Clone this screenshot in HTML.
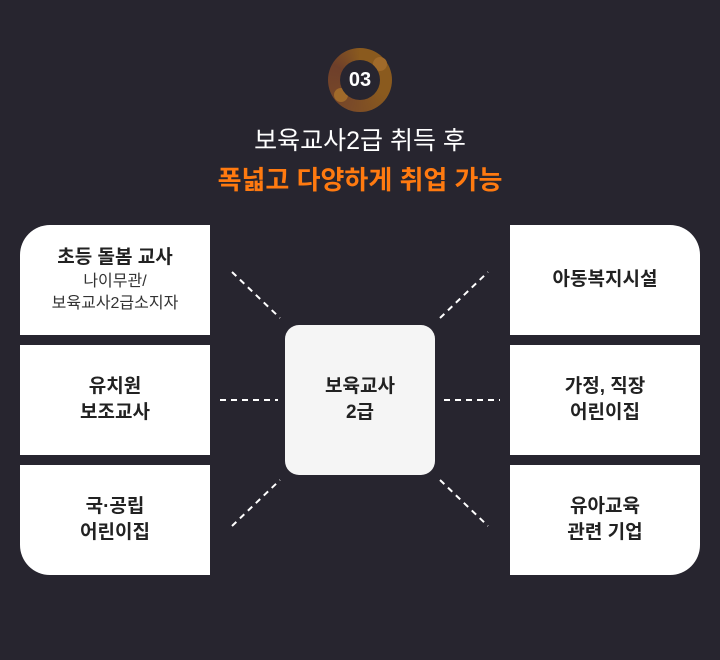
<!DOCTYPE html>
<html><head><meta charset="utf-8"><style>
body{margin:0;width:720px;height:660px;background:#27252f;font-family:"Liberation Sans","Noto Sans CJK KR",sans-serif;position:relative;overflow:hidden}
.b{position:absolute;background:#fff;display:flex;flex-direction:column;align-items:center;justify-content:center;text-align:center;color:#222;font-weight:bold;font-size:19px;line-height:26px}
.s{font-weight:normal;font-size:16px;line-height:22px;color:#333}
.t{position:absolute;left:0;width:720px;text-align:center}
</style></head><body>
<div style="position:absolute;left:328px;top:48px;width:64px;height:64px;border-radius:50%;background:conic-gradient(#8a5a1e 0deg,#8a5a1e 120deg,#7a4a28 200deg,#6e3f2a 300deg,#8a5a1e 360deg)"></div>
<div style="position:absolute;left:373px;top:57px;width:14px;height:14px;border-radius:50%;background:#a06a2a"></div>
<div style="position:absolute;left:334px;top:88px;width:14px;height:14px;border-radius:50%;background:#a06a2a"></div>
<div style="position:absolute;left:340px;top:60px;width:40px;height:40px;border-radius:50%;background:#27252f;color:#fff;font-weight:bold;font-size:20px;line-height:40px;text-align:center">03</div>
<div class="t" style="top:124px;color:#fff;font-size:25px;line-height:34px">보육교사2급 취득 후</div>
<div class="t" style="top:162px;color:#ff7a10;font-size:26px;font-weight:bold;line-height:36px">폭넓고 다양하게 취업 가능</div>

<div class="b" style="left:20px;top:225px;width:190px;height:110px;border-top-left-radius:30px">초등 돌봄 교사<span class="s">나이무관/<br>보육교사2급소지자</span></div>
<div class="b" style="left:20px;top:345px;width:190px;height:110px">유치원<br>보조교사</div>
<div class="b" style="left:20px;top:465px;width:190px;height:110px;border-bottom-left-radius:30px">국·공립<br>어린이집</div>
<div class="b" style="left:510px;top:225px;width:190px;height:110px;border-top-right-radius:30px">아동복지시설</div>
<div class="b" style="left:510px;top:345px;width:190px;height:110px">가정, 직장<br>어린이집</div>
<div class="b" style="left:510px;top:465px;width:190px;height:110px;border-bottom-right-radius:30px">유아교육<br>관련 기업</div>
<div class="b" style="left:285px;top:325px;width:150px;height:150px;border-radius:14px;background:#f5f5f5">보육교사<br>2급</div>

<svg width="720" height="660" style="position:absolute;left:0;top:0" fill="none" stroke="#fff" stroke-width="2" stroke-dasharray="6,5">
<line x1="232" y1="272" x2="280" y2="318"/>
<line x1="440" y1="318" x2="488" y2="272"/>
<line x1="220" y1="400" x2="278" y2="400"/>
<line x1="444" y1="400" x2="500" y2="400"/>
<line x1="232" y1="526" x2="280" y2="480"/>
<line x1="440" y1="480" x2="488" y2="526"/>
</svg>
</body></html>
